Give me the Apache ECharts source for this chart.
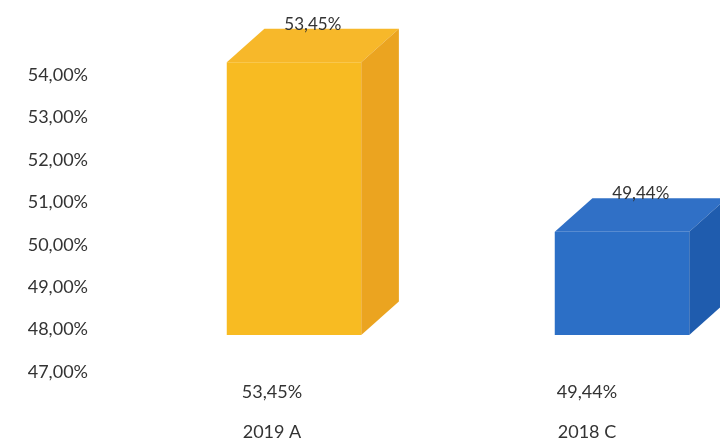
<!DOCTYPE html>
<html>
<head>
<meta charset="utf-8">
<script src="https://cdn.jsdelivr.net/npm/echarts@6/dist/echarts.min.js"></script>
<style>html,body{margin:0;padding:0;background:#fff;}#c{width:720px;height:448px;}</style>
</head>
<body>
<div id="c"></div>
<script>
const categories = ['2019 A', '2018 C'];
const values = [53.45, 49.44];
const yMin = 47, yMax = 54, yStep = 1;
const faceColors = [
  { front: '#F8BB22', top: '#F7B82A', side: '#EBA420' },
  { front: '#2C6FC6', top: '#3070C6', side: '#1F5CAE' }
];

const fmt = v => v.toFixed(2).replace('.', ',') + '%';
const FONT = 'Lato, "Open Sans", sans-serif';

const chart = echarts.init(document.getElementById('c'), null, { renderer: 'canvas' });
chart.setOption({
  animation: false,
  backgroundColor: '#fff',
  grid: [
    { left: 294, right: 98, top: 39, bottom: 113 },
    { left: 272, right: 133, top: 75, bottom: 76 }
  ],
  xAxis: [
    { gridIndex: 0, type: 'category', data: categories, boundaryGap: false, show: false },
    {
      gridIndex: 1, type: 'category', data: categories, boundaryGap: false,
      axisLine: { show: false }, axisTick: { show: false }, splitLine: { show: false },
      axisLabel: {
        margin: 0,
        fontFamily: FONT, color: '#333',
        formatter: (val, idx) => '{v|' + fmt(values[idx]) + '}\n{c|' + val + '}',
        rich: {
          v: { fontSize: 18, lineHeight: 40, fontFamily: FONT, color: '#333' },
          c: { fontSize: 18, lineHeight: 40, fontFamily: FONT, color: '#333' }
        }
      }
    }
  ],
  yAxis: [
    { gridIndex: 0, type: 'value', min: yMin, max: yMax, show: false },
    {
      gridIndex: 1, type: 'value', min: yMin, max: yMax, interval: yStep,
      axisLine: { show: false }, axisTick: { show: false }, splitLine: { show: false },
      axisLabel: { margin: 184, fontSize: 18, fontFamily: FONT, color: '#333', formatter: v => fmt(v) }
    }
  ],
  series: [{
    type: 'custom',
    xAxisIndex: 0, yAxisIndex: 0,
    data: values.map((v, i) => [i, v]),
    renderItem: (params, api) => {
      const i = api.value(0);
      const top = api.coord([i, api.value(1)]);
      const base = api.coord([i, yMin]);
      const w = api.size([1, 0])[0] * 0.41;
      const dx = w * 0.28, dy = -w * 0.25;
      const x0 = top[0] - w / 2, x1 = top[0] + w / 2;
      const c = faceColors[params.dataIndex];
      return {
        type: 'group',
        children: [
          { type: 'rect', shape: { x: x0, y: top[1], width: w, height: base[1] - top[1] }, style: { fill: c.front } },
          { type: 'polygon', shape: { points: [[x0, top[1]], [x0 + dx, top[1] + dy], [x1 + dx, top[1] + dy], [x1, top[1]]] }, style: { fill: c.top } },
          { type: 'polygon', shape: { points: [[x1, top[1]], [x1 + dx, top[1] + dy], [x1 + dx, base[1] + dy], [x1, base[1]]] }, style: { fill: c.side } },
          { type: 'text', x: top[0] + dx / 2, y: top[1] + dy + 4, style: { text: fmt(api.value(1)), align: 'center', verticalAlign: 'bottom', fontSize: 17, fontFamily: FONT, fill: '#333' } }
        ]
      };
    }
  }]
});
</script>
</body>
</html>
